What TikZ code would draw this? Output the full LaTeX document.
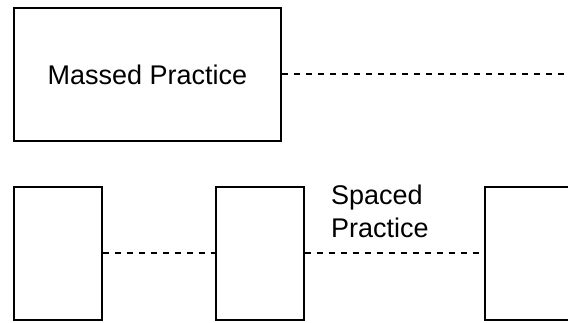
\documentclass[tikz,border=0pt]{standalone}
\usepackage{fontspec}
\setmainfont{Liberation Sans}
\begin{document}
\begin{tikzpicture}[x=1pt, y=-1pt,
    block/.style={draw, line width=2pt, inner sep=0pt, minimum height=133pt},
    link/.style={line width=2pt, dash pattern=on 6pt off 6pt},
    label/.style={font=\fontsize{27}{33}\selectfont, inner sep=0pt}]
\clip (0, 0) rectangle (568, 323);

\node[block, label, minimum width=267pt] (massed) at (147.5, 74.5) {Massed Practice};
\coordinate (edge) at (575, 74.5);
\path[link] (massed) edge (edge);

\def\cy{253.5};

\foreach[count=\i] \x in {57.5, 259.5, 529}
    \node[block, minimum width=88pt] (slot\i) at (\x, \cy) {};

\foreach \x [count=\i, remember=\i as \prei] in {57.5, 259.5, 529}
    \ifnum\i>1  \path[link] (slot\prei) edge (slot\i) \fi;

\node[label, align=left, anchor=west] (spaced) at (331, 211.5) {Spaced\\Practice};

\end{tikzpicture}
\end{document}
